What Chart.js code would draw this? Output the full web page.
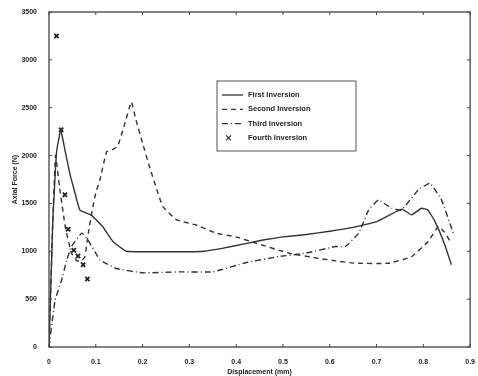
<!DOCTYPE html>
<html>
<head>
<meta charset="utf-8">
<script src="https://cdn.jsdelivr.net/npm/chart.js@4/dist/chart.umd.min.js"></script>
<style>
  html, body { margin: 0; padding: 0; background: #fff; }
  #wrap { width: 478px; height: 376px; }
</style>
</head>
<body>
<div id="wrap"><canvas id="chart" width="478" height="376"></canvas></div>
<script>
// displacement (mm) / axial force (N)
var firstX = [0, 0.008, 0.016, 0.025, 0.034, 0.045, 0.055, 0.066, 0.091, 0.115, 0.137, 0.165, 0.2, 0.25, 0.3, 0.33, 0.37, 0.42, 0.46, 0.5, 0.55, 0.6, 0.65, 0.7, 0.754, 0.775, 0.796, 0.81, 0.825, 0.845, 0.86];
var firstY = [0, 1300, 2030, 2270, 2060, 1800, 1620, 1430, 1375, 1255, 1100, 1000, 995, 995, 995, 1000, 1030, 1080, 1120, 1150, 1175, 1210, 1250, 1310, 1440, 1380, 1450, 1430, 1310, 1080, 860];

var secondX = [0, 0.008, 0.014, 0.023, 0.035, 0.048, 0.06, 0.07, 0.077, 0.084, 0.094, 0.1, 0.109, 0.123, 0.135, 0.147, 0.16, 0.176, 0.186, 0.2, 0.215, 0.23, 0.243, 0.272, 0.314, 0.357, 0.4, 0.442, 0.513, 0.577, 0.612, 0.655, 0.726, 0.775, 0.81, 0.832, 0.845, 0.86];
var secondY = [0, 1300, 2000, 1650, 1250, 980, 900, 900, 950, 1190, 1470, 1610, 1750, 2040, 2060, 2100, 2300, 2560, 2370, 2130, 1880, 1650, 1470, 1330, 1275, 1190, 1150, 1085, 980, 925, 900, 875, 875, 945, 1100, 1260, 1200, 1085];

var thirdX = [0, 0.013, 0.027, 0.038, 0.048, 0.07, 0.083, 0.109, 0.144, 0.2, 0.279, 0.35, 0.42, 0.491, 0.548, 0.612, 0.633, 0.662, 0.683, 0.704, 0.732, 0.753, 0.789, 0.814, 0.839, 0.864];
var thirdY = [0, 490, 700, 910, 1050, 1190, 1120, 910, 820, 775, 785, 785, 880, 945, 980, 1050, 1050, 1190, 1430, 1535, 1450, 1430, 1640, 1710, 1535, 1190];

var fourthX = [0.016, 0.026, 0.034, 0.041, 0.053, 0.062, 0.073, 0.082];
var fourthY = [3250, 2270, 1590, 1230, 1010, 950, 860, 710];

var seriesNames = ['First Inversion', 'Second Inversion', 'Third Inversion', 'Fourth Inversion'];
var xTicks = [0, 0.1, 0.2, 0.3, 0.4, 0.5, 0.6, 0.7, 0.8, 0.9];
var yTicks = [0, 500, 1000, 1500, 2000, 2500, 3000, 3500];

function pts(xs, ys) {
  return xs.map(function (x, i) { return { x: x, y: ys[i] }; });
}

var ink = '#333';
var tickFont = { family: 'Liberation Sans, Arial, sans-serif', size: 7, weight: 'bold' };

var dashes = [[], [5, 4], [6, 3, 1, 3]];

// box frame, inward ticks and the legend in the upper middle
var framePlugin = {
  id: 'frame',
  afterDraw: function (chart) {
    var ctx = chart.ctx;
    var ca = chart.chartArea;
    var xs = chart.scales.x, ys = chart.scales.y;
    ctx.save();
    ctx.strokeStyle = '#444';
    ctx.lineWidth = 1.3;
    ctx.strokeRect(ca.left, ca.top, ca.right - ca.left, ca.bottom - ca.top);
    ctx.lineWidth = 1;
    xTicks.forEach(function (v) {
      var px = xs.getPixelForValue(v);
      ctx.beginPath();
      ctx.moveTo(px, ca.bottom); ctx.lineTo(px, ca.bottom - 3);
      ctx.moveTo(px, ca.top); ctx.lineTo(px, ca.top + 3);
      ctx.stroke();
    });
    yTicks.forEach(function (v) {
      var py = ys.getPixelForValue(v);
      ctx.beginPath();
      ctx.moveTo(ca.left, py); ctx.lineTo(ca.left + 3, py);
      ctx.moveTo(ca.right, py); ctx.lineTo(ca.right - 3, py);
      ctx.stroke();
    });

    // legend
    var lx = ca.left + 168, ly = ca.top + 69, lw = 139, lh = 70;
    ctx.fillStyle = '#fff';
    ctx.fillRect(lx, ly, lw, lh);
    ctx.strokeStyle = '#555';
    ctx.lineWidth = 1;
    ctx.strokeRect(lx, ly, lw, lh);
    ctx.font = 'bold 7.5px Liberation Sans, Arial, sans-serif';
    ctx.textBaseline = 'middle';
    ctx.fillStyle = '#222';
    seriesNames.forEach(function (name, i) {
      var yy = ly + 14 + i * 14.3;
      ctx.strokeStyle = ink;
      ctx.lineWidth = 1.3;
      if (i < 3) {
        ctx.setLineDash(dashes[i]);
        ctx.beginPath();
        ctx.moveTo(lx + 5, yy); ctx.lineTo(lx + 26, yy);
        ctx.stroke();
        ctx.setLineDash([]);
      } else {
        ctx.beginPath();
        ctx.moveTo(lx + 9, yy - 2.5); ctx.lineTo(lx + 14, yy + 2.5);
        ctx.moveTo(lx + 14, yy - 2.5); ctx.lineTo(lx + 9, yy + 2.5);
        ctx.stroke();
      }
      ctx.fillText(name, lx + 31, yy);
    });
    ctx.restore();
  }
};

var lineBase = { showLine: true, pointRadius: 0, borderColor: ink, borderWidth: 1.4, fill: false, tension: 0.1 };

new Chart(document.getElementById('chart'), {
  type: 'scatter',
  data: {
    datasets: [
      Object.assign({ label: seriesNames[0], data: pts(firstX, firstY), borderDash: dashes[0] }, lineBase),
      Object.assign({ label: seriesNames[1], data: pts(secondX, secondY), borderDash: dashes[1] }, lineBase),
      Object.assign({ label: seriesNames[2], data: pts(thirdX, thirdY), borderDash: dashes[2] }, lineBase),
      {
        label: seriesNames[3],
        data: pts(fourthX, fourthY),
        showLine: false,
        pointStyle: 'crossRot',
        pointRadius: 3,
        borderColor: '#222',
        borderWidth: 1.8,
        backgroundColor: '#222'
      }
    ]
  },
  options: {
    responsive: false,
    animation: false,
    layout: { padding: { top: 12, right: 6, left: 0, bottom: 0 } },
    plugins: { legend: { display: false }, tooltip: { enabled: false } },
    scales: {
      x: {
        type: 'linear',
        min: 0,
        max: 0.9,
        grid: { display: false },
        border: { display: false },
        afterBuildTicks: function (s) { s.ticks = xTicks.map(function (v) { return { value: v }; }); },
        afterFit: function (s) { s.height = 29; },
        ticks: {
          color: '#222',
          font: tickFont,
          padding: 3,
          maxRotation: 0,
          callback: function (v) { return v === 0 ? '0' : v.toFixed(1); }
        },
        title: { display: true, text: 'Displacement (mm)', color: '#222', font: tickFont, padding: { top: 0, bottom: 0 } }
      },
      y: {
        min: 0,
        max: 3500,
        grid: { display: false },
        border: { display: false },
        afterBuildTicks: function (s) { s.ticks = yTicks.map(function (v) { return { value: v }; }); },
        afterFit: function (s) { s.width = 49; },
        ticks: {
          color: '#222',
          font: tickFont,
          padding: 4,
          callback: function (v) { return String(v); }
        },
        title: { display: true, text: 'Axial Force (N)', color: '#222', font: tickFont, padding: { top: 11, bottom: 0 } }
      }
    }
  },
  plugins: [framePlugin]
});
</script>
</body>
</html>
